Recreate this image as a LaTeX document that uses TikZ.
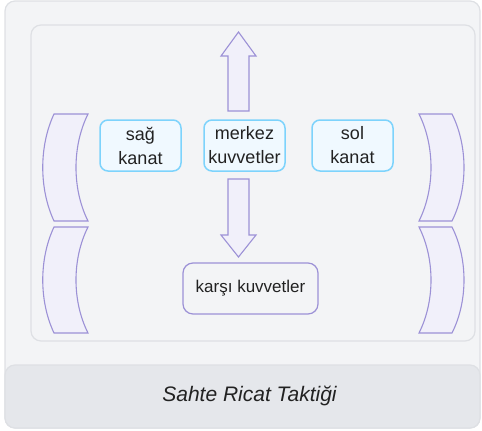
\documentclass[tikz,border=0pt]{standalone}
\usepackage{fontspec}
\setmainfont{Liberation Sans}
\usepackage{tikz}
\usetikzlibrary{calc}
\definecolor{pagegray}{HTML}{F3F4F6}
\definecolor{framegray}{HTML}{DEE0E4}
\definecolor{bargray}{HTML}{E5E7EB}
\definecolor{tacpurple}{HTML}{9C91D6}
\definecolor{taclavender}{HTML}{F1F0FA}
\definecolor{wingsky}{HTML}{7DD3FC}
\definecolor{wingfill}{HTML}{F0F9FF}
\definecolor{inkdark}{HTML}{222222}

\tikzset{
  wingbox/.style={draw=wingsky, fill=wingfill, line width=1.5pt, rounded corners=8pt,
    minimum width=81pt, minimum height=51pt, inner sep=0pt, align=center,
    text=inkdark, font=\fontsize{18}{24}\selectfont},
  foebox/.style={draw=tacpurple, fill=pagegray, line width=1.2pt, rounded corners=10pt,
    minimum width=135pt, minimum height=51pt, inner sep=0pt,
    text=inkdark, font=\fontsize{17}{23}\selectfont},
  blockshape/.style={draw=tacpurple, fill=taclavender, line width=1.1pt, line join=miter}
}

\begin{document}
\begin{tikzpicture}[x=1pt, y=-1pt]
\useasboundingbox (0,0) rectangle (482,431);

% Frames
\draw[framegray, fill=pagegray, line width=1.2pt, rounded corners=10pt] (5,1) rectangle (480,428);
\draw[framegray, fill=pagegray, line width=1.2pt, rounded corners=10pt] (31,25) rectangle (475,341);
\draw[framegray, fill=bargray, line width=1.2pt, rounded corners=10pt] (5,365) rectangle (480,428);
\node[font=\fontsize{21}{25}\selectfont\itshape, text=inkdark] (title) at (249.5,396) {Sahte Ricat Taktiği};

% Flanking brackets, left side
\foreach \top/\bot in {114/221, 227/333} {
  \draw[blockshape] (54,\top) -- (88,\top)
    .. controls (72,{\top+(\bot-\top)*0.3}) and (72,{\top+(\bot-\top)*0.7}) .. (88,\bot)
    -- (54,\bot)
    .. controls (39,{\top+(\bot-\top)*0.7}) and (39,{\top+(\bot-\top)*0.3}) .. (54,\top) -- cycle;
}
% Flanking brackets, right side
\foreach \top/\bot in {114/221, 227/333} {
  \draw[blockshape] (452,\top) -- (419,\top)
    .. controls (435,{\top+(\bot-\top)*0.3}) and (435,{\top+(\bot-\top)*0.7}) .. (419,\bot)
    -- (452,\bot)
    .. controls (468,{\top+(\bot-\top)*0.7}) and (468,{\top+(\bot-\top)*0.3}) .. (452,\top) -- cycle;
}

% Block arrows
\draw[blockshape] (228,111) -- (228,56) -- (221,56) -- (238.5,32) -- (256,56) -- (249,56) -- (249,111) -- cycle;
\draw[blockshape] (228,179) -- (249,179) -- (249,235) -- (256,235) -- (238.5,257) -- (221,235) -- (228,235) -- cycle;

% Forces
\node[wingbox] (right) at (140.5,145.5) {sağ\\kanat};
\node[wingbox] (center) at (244.5,145.5) {merkez\\kuvvetler};
\node[wingbox] (left) at (352.5,145.5) {sol\\kanat};
\node[foebox] (enemy) at (250.5,288.5) {karşı kuvvetler};
\end{tikzpicture}
\end{document}
